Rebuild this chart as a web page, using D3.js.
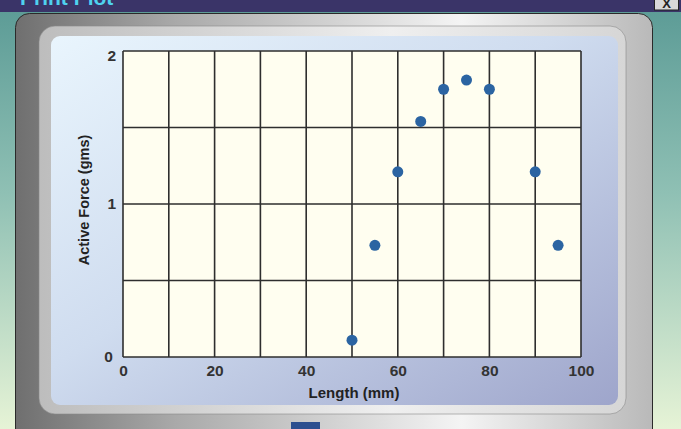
<!DOCTYPE html>
<html>
<head>
<meta charset="utf-8">
<script src="https://cdn.jsdelivr.net/npm/d3@7"></script>
<style>
  html, body { margin: 0; padding: 0; background: #fff; }
  svg { display: block; }
  text { font-family: "Liberation Sans", Arial, sans-serif; font-weight: bold; }
</style>
</head>
<body>
<div id="chart"></div>
<script>
// ---- data ----
const lengths = [50, 55, 60, 65, 70, 75, 80, 90, 95];
const forces  = [0.11, 0.73, 1.21, 1.54, 1.75, 1.81, 1.75, 1.21, 0.73];
const xTicks = [0, 20, 40, 60, 80, 100];
const yTicks = [0, 1, 2];
const xGrid = [0, 10, 20, 30, 40, 50, 60, 70, 80, 90, 100];
const yGrid = [0, 0.5, 1, 1.5, 2];
const windowTitle = "Print Plot";
const xTitle = "Length (mm)";
const yTitle = "Active Force (gms)";

const W = 681, H = 429;
const svg = d3.select("#chart").append("svg").attr("width", W).attr("height", H);
const defs = svg.append("defs");

// gradients
const bg = defs.append("linearGradient").attr("id", "bg").attr("x1", 0).attr("y1", 0).attr("x2", 0).attr("y2", 1);
bg.append("stop").attr("offset", "0").attr("stop-color", "#5a9a95");
bg.append("stop").attr("offset", "0.45").attr("stop-color", "#8fc0b4");
bg.append("stop").attr("offset", "1").attr("stop-color", "#e6f3d6");

const frame = defs.append("linearGradient").attr("id", "frame").attr("x1", 0).attr("y1", 0).attr("x2", 1).attr("y2", 0);
frame.append("stop").attr("offset", "0").attr("stop-color", "#6f6f6f");
frame.append("stop").attr("offset", "0.25").attr("stop-color", "#a9a9a9");
frame.append("stop").attr("offset", "0.7").attr("stop-color", "#f4f4f4");
frame.append("stop").attr("offset", "1").attr("stop-color", "#b9b9b9");

const bevel = defs.append("linearGradient").attr("id", "bevel").attr("x1", 0).attr("y1", 0).attr("x2", 1).attr("y2", 0);
bevel.append("stop").attr("offset", "0").attr("stop-color", "#bdbdbd");
bevel.append("stop").attr("offset", "0.6").attr("stop-color", "#efefef");
bevel.append("stop").attr("offset", "1").attr("stop-color", "#d6d6d6");

const panel = defs.append("linearGradient").attr("id", "panel").attr("x1", 0).attr("y1", 0).attr("x2", 1).attr("y2", 1);
panel.append("stop").attr("offset", "0").attr("stop-color", "#e9f5fd");
panel.append("stop").attr("offset", "0.45").attr("stop-color", "#cfdcef");
panel.append("stop").attr("offset", "1").attr("stop-color", "#9ea5cb");

// window background
svg.append("rect").attr("x", 0).attr("y", 0).attr("width", W).attr("height", H).attr("fill", "url(#bg)");
// title bar
svg.append("rect").attr("x", 0).attr("y", 0).attr("width", W).attr("height", 12).attr("fill", "#3a3468");
svg.append("text").attr("x", 20).attr("y", 5).attr("font-size", 21).attr("fill", "#4fd2ef").text(windowTitle);
// close button
svg.append("rect").attr("x", 654.5).attr("y", -3).attr("width", 24).attr("height", 13)
  .attr("fill", "#d8d8d8").attr("stroke", "#222").attr("stroke-width", 1);
svg.append("text").attr("x", 666.5).attr("y", 8).attr("text-anchor", "middle").attr("font-size", 13).attr("fill", "#222").text("X");

// grey frame
svg.append("rect").attr("x", 15.5).attr("y", 13.5).attr("width", 637).attr("height", 440).attr("rx", 14)
  .attr("fill", "url(#frame)").attr("stroke", "#2a2a2a").attr("stroke-width", 1);
// bevel
svg.append("rect").attr("x", 39).attr("y", 26).attr("width", 587).attr("height", 388).attr("rx", 16)
  .attr("fill", "url(#bevel)");
svg.append("rect").attr("x", 39).attr("y", 26).attr("width", 587).attr("height", 388).attr("rx", 16)
  .attr("fill", "none").attr("stroke", "#8a8a8a").attr("stroke-width", 1).attr("opacity", 0.6);
// inner panel
svg.append("rect").attr("x", 51).attr("y", 36).attr("width", 567).attr("height", 369).attr("rx", 9)
  .attr("fill", "url(#panel)");
// bottom button stub
svg.append("rect").attr("x", 291).attr("y", 422).attr("width", 29).attr("height", 10).attr("fill", "#2c4f8f");

// ---- plot ----
const x = d3.scaleLinear().domain([0, 100]).range([123, 581]);
const y = d3.scaleLinear().domain([0, 2]).range([357, 51]);

svg.append("rect").attr("x", x(0)).attr("y", y(2)).attr("width", x(100) - x(0)).attr("height", y(0) - y(2))
  .attr("fill", "#fffef0");

const grid = svg.append("g").attr("stroke", "#2e2e2e").attr("stroke-width", 1.6);
grid.selectAll("line.v").data(xGrid).join("line")
  .attr("x1", d => x(d)).attr("x2", d => x(d)).attr("y1", y(0)).attr("y2", y(2));
grid.selectAll("line.h").data(yGrid).join("line").attr("class", "h")
  .attr("x1", x(0)).attr("x2", x(100)).attr("y1", d => y(d)).attr("y2", d => y(d));

// axes (labels only)
const xAxis = d3.axisBottom(x).tickValues(xTicks).tickSize(0).tickPadding(7);
const gx = svg.append("g").attr("transform", `translate(0,${y(0) + 1})`).call(xAxis);
gx.select(".domain").remove();
gx.selectAll("text").attr("font-size", 15.5).attr("fill", "#333").attr("font-family", null);

const yAxis = d3.axisLeft(y).tickValues(yTicks).tickSize(0).tickPadding(7).tickFormat(d3.format("d"));
const gy = svg.append("g").attr("transform", `translate(${x(0)},0)`).call(yAxis);
gy.select(".domain").remove();
gy.selectAll("text").attr("font-size", 15.5).attr("fill", "#333").attr("font-family", null);
gy.selectAll(".tick").filter(d => d === 2).select("text").attr("dy", "0.6em");
gy.selectAll(".tick").filter(d => d === 0).select("text").attr("dx", "-0.2em");

// titles
svg.append("text").attr("x", x(50) + 2).attr("y", 398).attr("text-anchor", "middle")
  .attr("font-size", 15).attr("fill", "#222").text(xTitle);
svg.append("text").attr("transform", `translate(89,${y(1) - 4}) rotate(-90)`).attr("text-anchor", "middle")
  .attr("font-size", 14.5).attr("fill", "#222").text(yTitle);

// points
svg.append("g").selectAll("circle").data(lengths).join("circle")
  .attr("cx", d => x(d)).attr("cy", (d, i) => y(forces[i])).attr("r", 5.5)
  .attr("fill", "#2b64a2");
</script>
</body>
</html>
